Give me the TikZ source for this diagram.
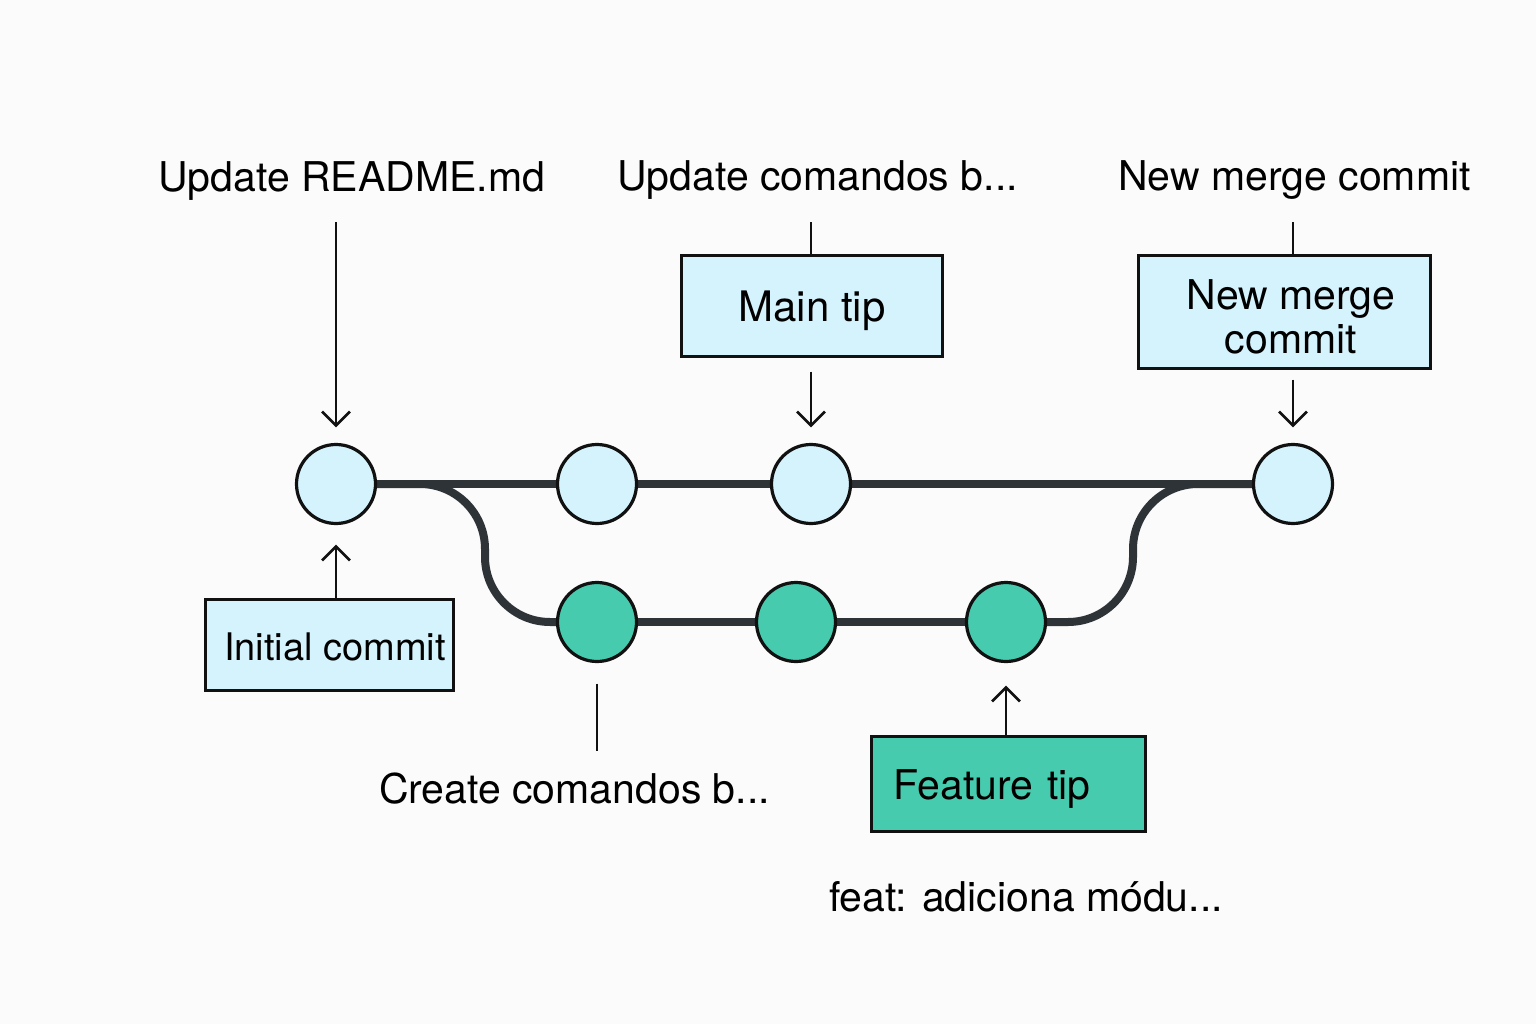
\documentclass[tikz,border=0pt]{standalone}
\usepackage{fontspec}
\setmainfont{TeX Gyre Heros}
\usetikzlibrary{arrows.meta,calc,backgrounds}
\definecolor{bgc}{HTML}{FBFBFB}
\definecolor{lblue}{HTML}{D4F3FD}
\definecolor{teal1}{HTML}{47CBAF}
\definecolor{branchc}{HTML}{2E3338}
\definecolor{ink}{HTML}{111111}
\begin{document}
\begin{tikzpicture}[x=1pt,y=-1pt,
  commitM/.style={circle, draw=ink, line width=3.2pt, fill=lblue, minimum size=79pt, inner sep=0pt},
  commitF/.style={commitM, fill=teal1},
  br/.style={draw=branchc, line width=8pt},
  box/.style={draw=ink, line width=3pt, fill=lblue, inner sep=0pt, font=\fontsize{41}{43}\selectfont, align=center},
  onebox/.style={box, text height=30pt, text depth=0pt},
  lbl/.style={inner sep=0pt, anchor=base, text height=30pt, text depth=9pt, font=\fontsize{41}{49}\selectfont},
  conn/.style={draw=ink, line width=2.6pt},
  arr/.style={conn, -{Straight Barb[length=14pt,width=28pt]}},
]
\useasboundingbox (0,0) rectangle (1536,1024);

% commits
\node[commitM] (c1) at (336,484) {};
\node[commitM] (c2) at (597,484) {};
\node[commitM] (c3) at (811,484) {};
\node[commitM] (c4) at (1293,484) {};
\node[commitF] (f1) at (597,622) {};
\node[commitF] (f2) at (796,622) {};
\node[commitF] (f3) at (1006,622) {};

% branches
\begin{scope}[on background layer]
  \fill[bgc] (0,0) rectangle (1536,1024);
  \draw[br] (c1) -- (c4);
  \draw[br] (f1) -- (f3);
  \draw[br, rounded corners=65pt] (c1.east) -- (485,484) -- (485,622) -- (f1.west);
  \draw[br, rounded corners=65pt] (f3.east) -- (1133,622) -- (1133,484) -- (c4.west);
\end{scope}

% boxes
\node[onebox, minimum width=261pt, minimum height=101pt, font=\fontsize{42}{44}\selectfont] (mtip) at (812,306) {Main tip};
\node[box, minimum width=292pt, minimum height=113pt] (mmerge) at (1284.5,312) {};
\node[inner sep=0pt, align=center, font=\fontsize{41}{44}\selectfont] (mmergetxt) at (1291,317) {New merge\\commit};
\node[onebox, minimum width=248pt, minimum height=91pt, font=\fontsize{38}{44}\selectfont] (init) at (329.5,645) {\hspace*{11pt}Initial commit};
\node[onebox, fill=teal1, minimum width=274pt, minimum height=95pt, text width=230pt, align=left] (ftip) at (1008.5,784) {Feature tip};

% labels
\node[lbl] (t1) at (351.5,192) {Update README.md};
\node[lbl] (t2) at (817.5,191) {Update comandos b...};
\node[lbl] (t3) at (1294.5,191) {New merge commit};
\node[lbl] (t4) at (574.5,803) {Create comandos b...};
\node[lbl] (t5) at (1026,911) {feat: adiciona módu...};

% connectors
\draw[arr, shorten <=21pt, shorten >=15.5pt] (t1.south -| c1) -- (c1.north);
\draw[conn, shorten <=22pt] (t2.south -| c3) -- (mtip.north -| c3);
\draw[arr, shorten <=13.5pt, shorten >=15.5pt] (mtip.south -| c3) -- (c3.north);
\draw[conn, shorten <=22pt] (t3.south -| c4) -- (mmerge.north -| c4);
\draw[arr, shorten <=9.5pt, shorten >=15.5pt] (mmerge.south -| c4) -- (c4.north);
\draw[arr, shorten >=19.5pt] (init.north -| c1) -- (c1.south);
\draw[conn, shorten <=20.5pt, shorten >=22pt] (f1.south) -- (f1.south |- t4.north);
\draw[arr, shorten >=22.5pt] (ftip.north -| f3) -- (f3.south);
\end{tikzpicture}
\end{document}
